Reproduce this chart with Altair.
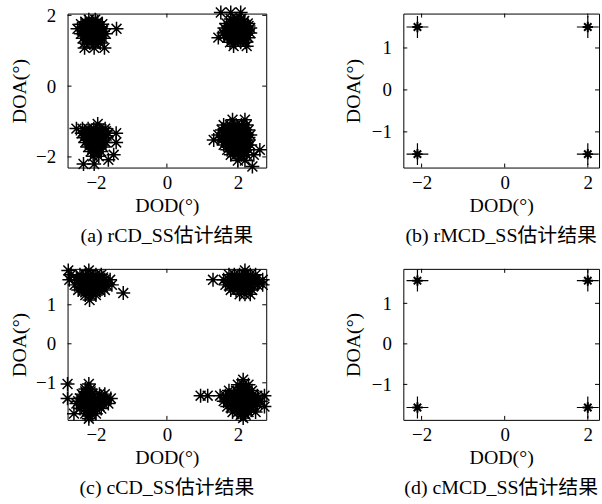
import altair as alt
import pandas as pd

FONT = "Liberation Serif, Noto Sans CJK SC"
ASTERISK = "M-1,0L1,0M0,-1L0,1M-0.71,-0.71L0.71,0.71M-0.71,0.71L0.71,-0.71"
PLUS = "M-1,0L1,0M0,-1L0,1"

X_TICKS = [-2, 0, 2]
Y_TICKS_A = [-2, 0, 2]
Y_TICKS_1 = [-1, 0, 1]

# (a) rCD_SS : rows of (DOA, [DOD ...]) per cluster
A_TL = [(1.88, [-2.2, -2.02]),
        (1.82, [-2.3, -2.1, -1.95]),
        (1.75, [-2.42, -2.27, -2.12, -1.97, -1.82]),
        (1.68, [-2.35, -2.2, -2.05, -1.9]),
        (1.62, [-2.52, -2.37, -2.22, -2.07, -1.92, -1.78, -1.42]),
        (1.55, [-2.35, -2.2, -2.05, -1.9, -1.8]),
        (1.48, [-2.42, -2.28, -2.13, -1.98, -1.83, -1.72]),
        (1.42, [-2.3, -2.15, -2.0, -1.88]),
        (1.35, [-2.37, -2.22, -2.07, -1.92, -1.8]),
        (1.28, [-2.25, -2.1, -1.95]),
        (1.22, [-2.32, -2.17, -2.02, -1.88]),
        (1.08, [-2.32, -2.05, -1.76])]
A_TR = [(2.08, [1.52, 1.8, 2.08]),
        (1.9, [1.8, 1.95, 2.1]),
        (1.84, [1.88, 2.03, 2.18]),
        (1.77, [1.68, 1.83, 1.98, 2.13, 2.28]),
        (1.7, [1.75, 1.9, 2.05, 2.2, 2.3]),
        (1.64, [1.62, 1.77, 1.92, 2.07, 2.22, 2.35]),
        (1.57, [1.68, 1.83, 1.98, 2.13, 2.28]),
        (1.5, [1.6, 1.75, 1.9, 2.05, 2.2, 2.35]),
        (1.44, [1.62, 1.78, 1.93, 2.08, 2.23]),
        (1.37, [1.45, 1.7, 1.85, 2.0, 2.15, 2.3]),
        (1.3, [1.85, 2.0, 2.15]),
        (1.24, [1.78, 1.93, 2.08, 2.22]),
        (1.13, [1.88, 2.25])]
A_BL = [(-1.07, [-1.95]),
        (-1.2, [-2.55, -2.38, -2.22, -2.06, -1.9, -1.74]),
        (-1.27, [-2.32, -2.17, -2.02, -1.87, -1.72]),
        (-1.33, [-2.4, -2.25, -2.1, -1.95, -1.8, -1.65, -1.43]),
        (-1.4, [-2.3, -2.15, -2.0, -1.85, -1.7]),
        (-1.46, [-2.35, -2.2, -2.05, -1.9, -1.75]),
        (-1.53, [-2.25, -2.1, -1.95, -1.8]),
        (-1.59, [-2.3, -2.15, -2.0, -1.85, -1.72, -1.43]),
        (-1.66, [-2.15, -2.0, -1.85]),
        (-1.72, [-2.22, -2.07, -1.92, -1.8]),
        (-1.79, [-2.1, -1.95]),
        (-1.85, [-2.15, -2.0, -1.85]),
        (-1.94, [-1.5]),
        (-1.98, [-2.08, -1.92]),
        (-2.08, [-1.65]),
        (-2.2, [-2.35, -2.05])]
A_BR = [(-0.95, [1.85, 2.2]),
        (-1.1, [1.6, 1.78, 1.95, 2.1, 2.25]),
        (-1.17, [1.7, 1.85, 2.0, 2.15]),
        (-1.24, [1.55, 1.7, 1.85, 2.0, 2.15, 2.3]),
        (-1.31, [1.62, 1.78, 1.93, 2.08, 2.23]),
        (-1.38, [1.45, 1.6, 1.75, 1.9, 2.05, 2.2, 2.35]),
        (-1.45, [1.55, 1.7, 1.85, 2.0, 2.15, 2.3]),
        (-1.52, [1.32, 1.55, 1.7, 1.85, 2.0, 2.15, 2.3]),
        (-1.59, [1.65, 1.8, 1.95, 2.1, 2.25]),
        (-1.66, [1.6, 1.75, 1.9, 2.05, 2.2, 2.35]),
        (-1.73, [1.75, 1.9, 2.05, 2.2]),
        (-1.8, [1.7, 1.85, 2.0, 2.15, 2.3, 2.62]),
        (-1.87, [1.88, 2.03, 2.18]),
        (-1.94, [1.8, 1.95, 2.1, 2.25, 2.45]),
        (-2.1, [2.0, 2.2]),
        (-2.27, [2.41])]

# (c) cCD_SS
C_TL = [(1.88, [-2.78, -2.2]),
        (1.77, [-2.7, -2.45, -2.3, -2.15, -2.0, -1.85]),
        (1.7, [-2.55, -2.4, -2.25, -2.1, -1.95, -1.8]),
        (1.64, [-2.75, -2.5, -2.35, -2.2, -2.05, -1.9, -1.75, -1.6]),
        (1.57, [-2.5, -2.35, -2.2, -2.05, -1.9, -1.75]),
        (1.51, [-2.6, -2.45, -2.3, -2.15, -2.0, -1.85, -1.7, -1.55]),
        (1.44, [-2.4, -2.25, -2.1, -1.95, -1.8]),
        (1.38, [-2.5, -2.35, -2.2, -2.05, -1.9, -1.75]),
        (1.32, [-2.3, -2.15, -2.0]),
        (1.3, [-1.23]),
        (1.25, [-2.3, -2.15, -2.0]),
        (1.12, [-2.18])]
C_TR = [(1.88, [2.2]),
        (1.77, [1.75, 1.9, 2.05, 2.2, 2.35, 2.5]),
        (1.7, [1.82, 1.97, 2.12, 2.27, 2.42]),
        (1.64, [1.3, 1.6, 1.75, 1.9, 2.05, 2.2, 2.35, 2.5, 2.7]),
        (1.57, [1.7, 1.85, 2.0, 2.15, 2.3, 2.45, 2.6]),
        (1.51, [1.65, 1.8, 1.95, 2.1, 2.25, 2.4, 2.55, 2.7]),
        (1.44, [1.88, 2.03, 2.18, 2.33]),
        (1.38, [1.8, 1.95, 2.1, 2.25, 2.4]),
        (1.27, [2.05, 2.2, 2.35])]
C_BL = [(-1.03, [-2.8, -2.2]),
        (-1.16, [-2.3, -2.15]),
        (-1.22, [-2.3, -2.15]),
        (-1.29, [-2.4, -2.25, -2.1, -1.9, -1.75]),
        (-1.35, [-2.35, -2.2, -2.05, -1.85]),
        (-1.4, [-2.8, -2.45, -2.3, -2.15, -2.0, -1.85, -1.7, -1.58]),
        (-1.47, [-2.5, -2.35, -2.2, -2.05, -1.9, -1.75]),
        (-1.53, [-2.55, -2.4, -2.25, -2.1, -1.95, -1.8, -1.65]),
        (-1.6, [-2.35, -2.2, -2.05, -1.9]),
        (-1.66, [-2.45, -2.3, -2.15, -2.0, -1.85]),
        (-1.72, [-2.25, -2.1]),
        (-1.79, [-2.62, -2.3, -2.15, -2.0]),
        (-1.85, [-2.2]),
        (-1.92, [-2.2])]
C_BR = [(-0.92, [2.15]),
        (-1.05, [2.0, 2.15, 2.3]),
        (-1.12, [2.08, 2.22]),
        (-1.2, [1.75, 1.95, 2.1, 2.25, 2.4]),
        (-1.27, [1.88, 2.02, 2.18, 2.32]),
        (-1.33, [0.95, 1.15, 1.5, 1.65, 1.8, 1.95, 2.1, 2.25, 2.4, 2.55, 2.75]),
        (-1.4, [1.68, 1.82, 1.98, 2.12, 2.28, 2.42, 2.58]),
        (-1.47, [1.6, 1.75, 1.9, 2.05, 2.2, 2.35, 2.5, 2.65]),
        (-1.54, [1.8, 1.95, 2.1, 2.25, 2.4, 2.55]),
        (-1.61, [1.7, 1.85, 2.0, 2.15, 2.3, 2.45, 2.75]),
        (-1.68, [1.92, 2.08, 2.22, 2.38]),
        (-1.75, [1.85, 2.0, 2.15, 2.3, 2.5]),
        (-1.82, [2.08, 2.22]),
        (-1.9, [2.15])]

# (b) rMCD_SS and (d) cMCD_SS : estimates coincide with the four sources
B_DOD = [-2.1, 2.0, -2.1, 2.0]
B_DOA = [1.5, 1.5, -1.53, -1.53]
D_DOD = [-2.1, 2.0, -2.1, 2.0]
D_DOA = [1.56, 1.56, -1.57, -1.57]


def rows_df(*clusters):
    recs = [{"dod": x, "doa": y} for cl in clusters for y, xs in cl for x in xs]
    return pd.DataFrame(recs)


def panel(marks, xdom, ydom, yticks, w, h, caption, ytp):
    xs = alt.Scale(domain=xdom, nice=False, zero=False)
    ys = alt.Scale(domain=ydom, nice=False, zero=False)
    xax = alt.Axis(values=X_TICKS, title="DOD(°)", grid=False, ticks=False,
                   domain=False, labelPadding=6, titlePadding=3)
    yax = alt.Axis(values=yticks, title="DOA(°)", grid=False, ticks=False,
                   domain=False, labelPadding=12, titlePadding=ytp)
    layers = []
    for df, shape, size, sw in marks:
        layers.append(
            alt.Chart(df).mark_point(shape=shape, filled=False, size=size,
                                     strokeWidth=sw, color="black", opacity=1)
            .encode(x=alt.X("dod:Q", scale=xs, axis=xax),
                    y=alt.Y("doa:Q", scale=ys, axis=yax))
        )
    xt = pd.DataFrame({"dod": X_TICKS})
    yt = pd.DataFrame({"doa": yticks})
    for y0, y1 in ((h, h - 4), (0, 4)):
        layers.append(alt.Chart(xt).mark_rule(color="black", strokeWidth=1).encode(
            x=alt.X("dod:Q", scale=xs, axis=xax), y=alt.value(y0), y2=alt.value(y1)))
    for x0, x1 in ((0, 4), (w, w - 4)):
        layers.append(alt.Chart(yt).mark_rule(color="black", strokeWidth=1).encode(
            y=alt.Y("doa:Q", scale=ys, axis=yax), x=alt.value(x0), x2=alt.value(x1)))
    return alt.layer(*layers).properties(
        width=w, height=h,
        title=alt.TitleParams(text=caption, orient="bottom", anchor="middle",
                              frame="group", font=FONT, fontSize=20,
                              fontWeight="normal", color="black", offset=11))


dfA = rows_df(A_TL, A_TR, A_BL, A_BR)
dfC = rows_df(C_TL, C_TR, C_BL, C_BR)
dfB = pd.DataFrame({"dod": B_DOD, "doa": B_DOA})
dfD = pd.DataFrame({"dod": D_DOD, "doa": D_DOA})

pa = panel([(dfA, ASTERISK, 196, 1.5)], [-2.8, 2.8], [-2.3, 2.05], Y_TICKS_A,
           200, 155, "(a) rCD_SS估计结果", 6)
pb = panel([(dfB, PLUS, 484, 1.2), (dfB, ASTERISK, 110, 2.0)], [-2.44, 2.27],
           [-1.85, 1.82], Y_TICKS_1, 197, 155, "(b) rMCD_SS估计结果", 8)
pc = panel([(dfC, ASTERISK, 196, 1.5)], [-2.8, 2.8], [-1.95, 1.92], Y_TICKS_1,
           200, 152, "(c) cCD_SS估计结果", 6)
pd_ = panel([(dfD, PLUS, 484, 1.2), (dfD, ASTERISK, 110, 2.0)], [-2.44, 2.27],
            [-1.875, 1.85], Y_TICKS_1, 197, 152, "(d) cMCD_SS估计结果", 8)

chart = alt.concat(pa, pb, pc, pd_, columns=2,
                   spacing={"row": 102, "column": 138}, bounds="flush").properties(
    padding={"left": 9, "top": 0, "right": 0, "bottom": 0},
    background="white",
).configure_view(stroke="black", strokeWidth=1).configure_axis(
    labelFont=FONT, labelFontSize=19, labelColor="black",
    titleFont=FONT, titleFontSize=20, titleFontWeight="normal", titleColor="black",
)

chart.save("out.html", embed_options={"renderer": "svg", "actions": False})
